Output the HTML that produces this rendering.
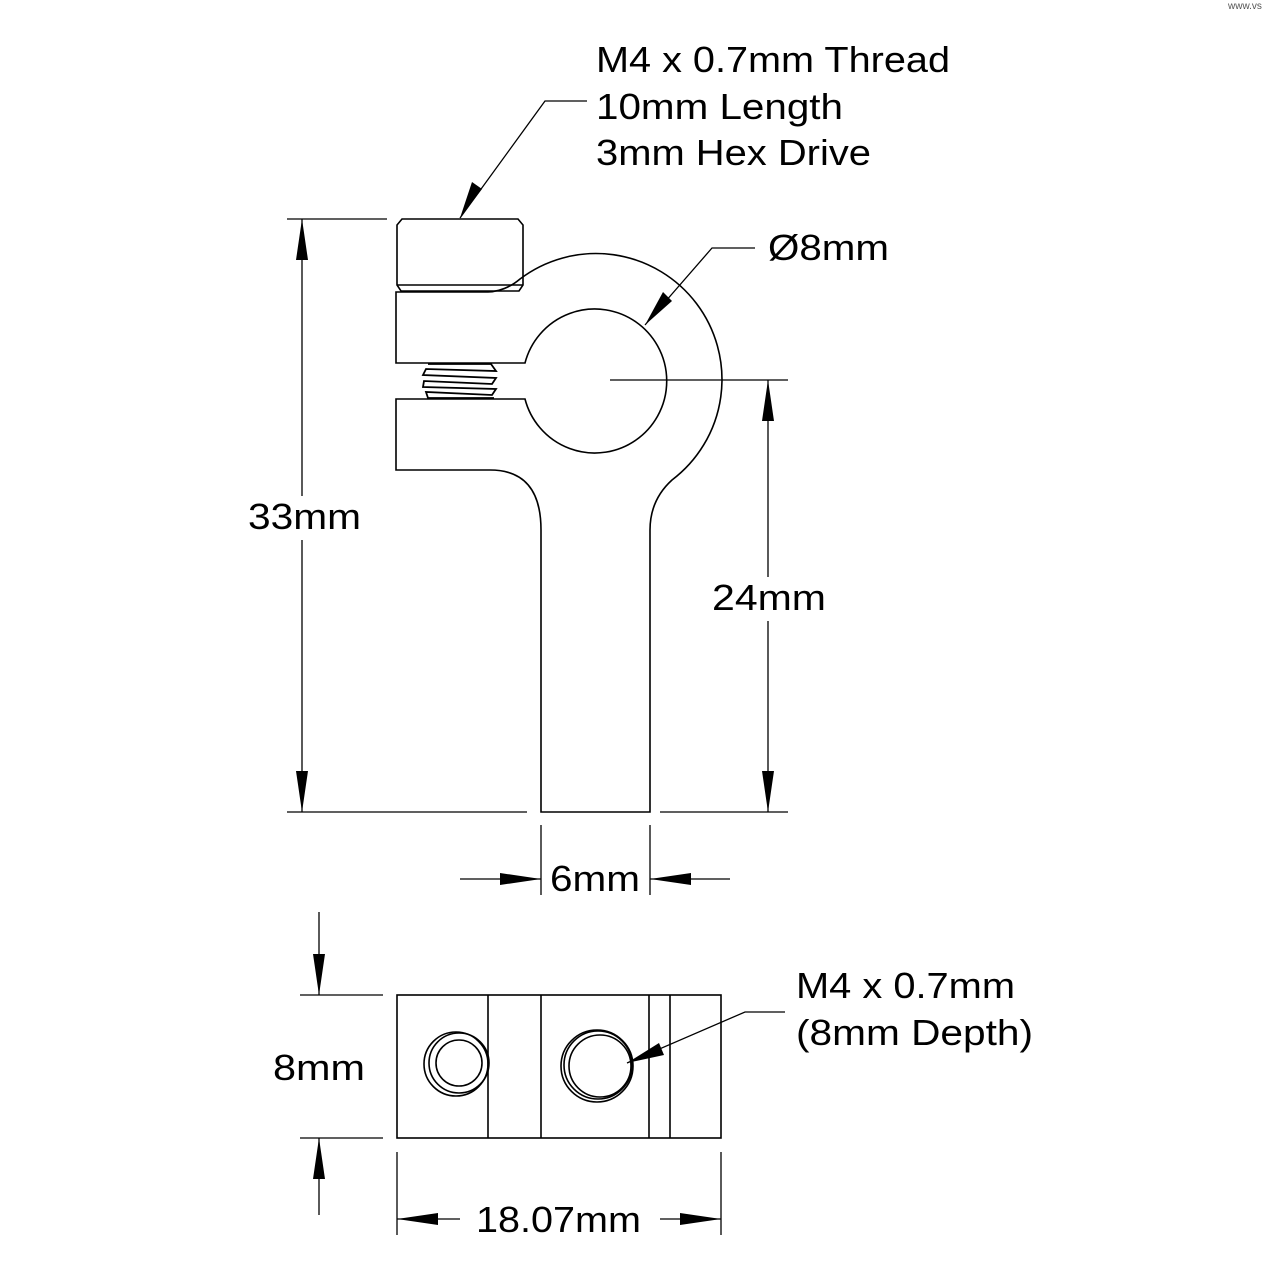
<!DOCTYPE html>
<html><head><meta charset="utf-8"><style>html,body{margin:0;padding:0;background:#fff}svg{display:block}</style></head>
<body>
<svg width="1280" height="1280" viewBox="0 0 1280 1280" xmlns="http://www.w3.org/2000/svg">
<g fill="none" stroke="#000" stroke-width="1.6">
<path d="M402,219 L518,219 L523,225 L523,285 L519,291 L401,291 L397,285 L397,225 Z"/>
<line x1="397" y1="285" x2="523" y2="285"/>
<path d="M396,292 L488,292 Q506,291 520,279 A126 126 0 0 1 672,480 Q650,500 650,530 L650,812 L541,812 L541,530 Q541,470 490,470 L396,470 L396,399 L525,399 A72 72 0 1 0 525,363 L396,363 Z"/>
<path d="M428,364 L491,364 L496,371 L426,369 L423,375 L496,378 L492,384 L424,381 L423,387 L496,389 L492,395 L426,392 L428,398 L494,398" stroke-width="1.8"/>
<line x1="610" y1="380" x2="788" y2="380" stroke-width="1.2"/>
<rect x="397" y="995" width="324" height="143"/>
<line x1="488" y1="995" x2="488" y2="1138"/>
<line x1="541" y1="995" x2="541" y2="1138"/>
<line x1="649" y1="995" x2="649" y2="1138"/>
<line x1="670" y1="995" x2="670" y2="1138"/>
<circle cx="456" cy="1064" r="32"/><circle cx="459" cy="1063" r="30"/><circle cx="459" cy="1063" r="23"/>
<circle cx="597" cy="1066" r="36"/><circle cx="598" cy="1065" r="34"/><circle cx="600" cy="1066" r="31"/>
<g stroke-width="1.3">
<line x1="287" y1="219" x2="387" y2="219"/><line x1="287" y1="812" x2="527" y2="812"/>
<line x1="302" y1="219" x2="302" y2="812"/>
<line x1="660" y1="812" x2="788" y2="812"/>
<line x1="768" y1="380" x2="768" y2="812"/>
<line x1="541" y1="825" x2="541" y2="895"/><line x1="650" y1="825" x2="650" y2="895"/>
<line x1="460" y1="879" x2="541" y2="879"/><line x1="650" y1="879" x2="730" y2="879"/>
<line x1="300" y1="995" x2="383" y2="995"/><line x1="300" y1="1138" x2="383" y2="1138"/>
<line x1="319" y1="912" x2="319" y2="995"/><line x1="319" y1="1138" x2="319" y2="1215"/>
<line x1="397" y1="1152" x2="397" y2="1235"/><line x1="721" y1="1152" x2="721" y2="1235"/>
<line x1="397" y1="1219" x2="460" y2="1219"/><line x1="660" y1="1219" x2="721" y2="1219"/>
<polyline points="587,101 545,101 460,218"/>
<polyline points="755,248 712,248 645,325"/>
<polyline points="785,1012 745,1012 627,1063"/>
</g>
</g>
<g fill="#000">
<polygon points="302,219 296,260 308,260"/><polygon points="302,812 296,771 308,771"/>
<polygon points="768,380 762,421 774,421"/><polygon points="768,812 762,771 774,771"/>
<polygon points="541,879 500,873 500,885"/><polygon points="650,879 691,873 691,885"/>
<polygon points="319,995 313,954 325,954"/><polygon points="319,1138 313,1179 325,1179"/>
<polygon points="397,1219 438,1213 438,1225"/><polygon points="721,1219 680,1213 680,1225"/>
<polygon points="460,218 472,182 482,189"/>
<polygon points="645,325 663,292 672,301"/>
<polygon points="627,1063 659,1043 664,1055"/>
</g>
<rect x="244" y="496" width="122" height="44" fill="#fff"/>
<rect x="708" y="577" width="122" height="44" fill="#fff"/>
<g font-family="'Liberation Sans', 'DejaVu Sans', sans-serif" font-size="36" fill="#000">
<text x="596" y="72" textLength="354" lengthAdjust="spacingAndGlyphs">M4 x 0.7mm Thread</text>
<text x="596" y="119" textLength="247" lengthAdjust="spacingAndGlyphs">10mm Length</text>
<text x="596" y="165" textLength="275" lengthAdjust="spacingAndGlyphs">3mm Hex Drive</text>
<text x="768" y="260" textLength="121" lengthAdjust="spacingAndGlyphs">Ø8mm</text>
<text x="248" y="529" textLength="113" lengthAdjust="spacingAndGlyphs">33mm</text>
<text x="712" y="610" textLength="114" lengthAdjust="spacingAndGlyphs">24mm</text>
<text x="550" y="891" textLength="90" lengthAdjust="spacingAndGlyphs">6mm</text>
<text x="273" y="1080" textLength="92" lengthAdjust="spacingAndGlyphs">8mm</text>
<text x="796" y="998" textLength="219" lengthAdjust="spacingAndGlyphs">M4 x 0.7mm</text>
<text x="796" y="1045" textLength="237" lengthAdjust="spacingAndGlyphs">(8mm Depth)</text>
<text x="476" y="1232" textLength="165" lengthAdjust="spacingAndGlyphs">18.07mm</text>
</g>
<text x="1228" y="9" font-family="'Liberation Sans', sans-serif" font-size="10" fill="#555">www.vs</text>
</svg>
</body></html>
